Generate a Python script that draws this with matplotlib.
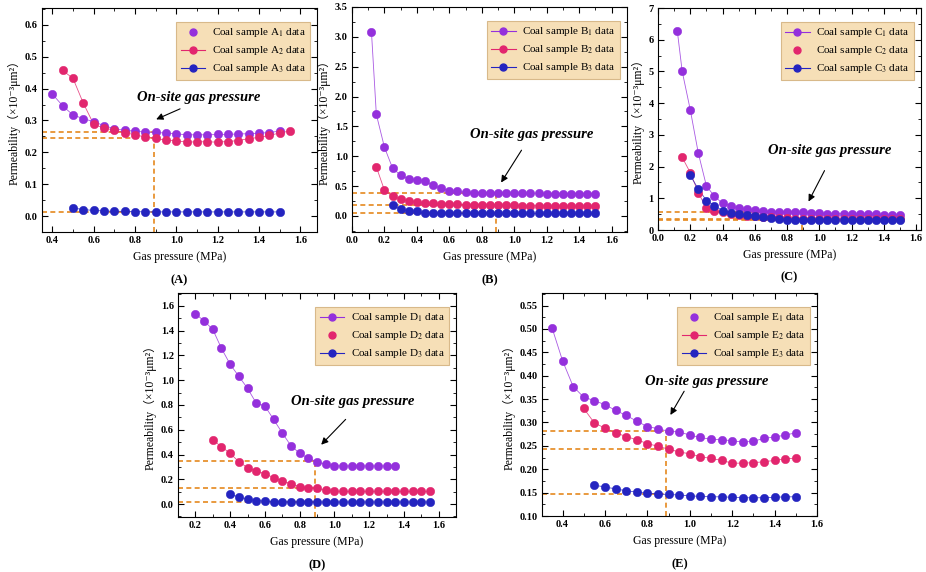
import numpy as np
import matplotlib
matplotlib.use("Agg")
import matplotlib.pyplot as plt
from matplotlib.lines import Line2D
from matplotlib.ticker import AutoMinorLocator, MultipleLocator, FormatStrFormatter

plt.rcParams["font.family"] = ["Liberation Serif", "Noto Sans CJK SC", "DejaVu Serif"]
plt.rcParams["mathtext.fontset"] = "stix"

# ---- data ----
xa1 = np.round(np.arange(0.40, 1.501, 0.05), 2)
ya1 = [0.383, 0.346, 0.317, 0.306, 0.296, 0.284, 0.274, 0.269, 0.267, 0.263, 0.263, 0.260,
       0.258, 0.255, 0.255, 0.255, 0.256, 0.256, 0.258, 0.258, 0.260, 0.262, 0.267]
xa2 = np.round(np.arange(0.45, 1.551, 0.05), 2)
ya2 = [0.457, 0.432, 0.354, 0.288, 0.276, 0.270, 0.262, 0.255, 0.248, 0.244, 0.238, 0.236,
       0.232, 0.233, 0.233, 0.232, 0.234, 0.237, 0.243, 0.247, 0.253, 0.261, 0.267]
xa3 = np.round(np.arange(0.50, 1.501, 0.05), 2)
ya3 = [0.026, 0.020, 0.018, 0.016, 0.015, 0.015, 0.014, 0.013, 0.013, 0.013, 0.013,
       0.013, 0.013, 0.013, 0.013, 0.013, 0.013, 0.013, 0.013, 0.013, 0.013]

xb1 = np.round(np.r_[0.12, np.arange(0.15, 1.501, 0.05)], 2)
yb1 = [3.08, 1.70, 1.15, 0.80, 0.68, 0.62, 0.60, 0.59, 0.51, 0.46, 0.42, 0.41, 0.40, 0.39,
       0.39, 0.39, 0.385, 0.385, 0.38, 0.38, 0.38, 0.38, 0.375, 0.375, 0.375, 0.375, 0.375,
       0.375, 0.375]
xb2 = np.round(np.arange(0.15, 1.501, 0.05), 2)
yb2 = [0.82, 0.43, 0.33, 0.28, 0.25, 0.24, 0.215, 0.21, 0.20, 0.20, 0.195, 0.19, 0.19, 0.185,
       0.18, 0.18, 0.175, 0.175, 0.17, 0.17, 0.17, 0.165, 0.165, 0.165, 0.16, 0.16, 0.16, 0.16]
xb3 = np.round(np.arange(0.25, 1.501, 0.05), 2)
yb3 = [0.175, 0.11, 0.085, 0.075, 0.05, 0.045, 0.04, 0.04, 0.04, 0.04, 0.04, 0.04, 0.04,
       0.04, 0.04, 0.04, 0.04, 0.04, 0.04, 0.04, 0.04, 0.04, 0.04, 0.04, 0.04, 0.04]

xc1 = np.round(np.r_[0.12, np.arange(0.15, 1.501, 0.05)], 2)
yc1 = [6.26, 5.00, 3.79, 2.42, 1.39, 1.06, 0.84, 0.77, 0.69, 0.65, 0.63, 0.61, 0.58, 0.57,
       0.57, 0.56, 0.56, 0.54, 0.53, 0.52, 0.52, 0.51, 0.50, 0.50, 0.49, 0.49, 0.48, 0.48, 0.48]
xc2 = np.round(np.arange(0.15, 1.501, 0.05), 2)
yc2 = [2.29, 1.81, 1.18, 0.68, 0.60, 0.57, 0.50, 0.47, 0.45, 0.43, 0.41, 0.40, 0.38, 0.37,
       0.36, 0.35, 0.35, 0.34, 0.34, 0.34, 0.34, 0.34, 0.34, 0.34, 0.34, 0.34, 0.34, 0.34]
xc3 = np.round(np.arange(0.20, 1.501, 0.05), 2)
yc3 = [1.72, 1.29, 0.93, 0.77, 0.61, 0.53, 0.52, 0.47, 0.44, 0.41, 0.38, 0.34, 0.33, 0.33,
       0.32, 0.32, 0.32, 0.31, 0.31, 0.31, 0.31, 0.30, 0.30, 0.30, 0.30, 0.30, 0.30]

xd1 = np.round(np.arange(0.20, 1.351, 0.05), 2)
yd1 = [1.538, 1.479, 1.411, 1.258, 1.129, 1.032, 0.935, 0.816, 0.792, 0.684, 0.574, 0.471,
       0.410, 0.369, 0.342, 0.320, 0.308, 0.307, 0.307, 0.307, 0.307, 0.307, 0.307, 0.307]
xd2 = np.round(np.arange(0.30, 1.551, 0.05), 2)
yd2 = [0.517, 0.463, 0.409, 0.342, 0.294, 0.267, 0.245, 0.213, 0.186, 0.164, 0.140, 0.132,
       0.127, 0.113, 0.104, 0.102, 0.102, 0.102, 0.102, 0.102, 0.102, 0.102, 0.102, 0.102,
       0.102, 0.102]
xd3 = np.round(np.arange(0.40, 1.551, 0.05), 2)
yd3 = [0.078, 0.057, 0.040, 0.027, 0.024, 0.018, 0.017, 0.016, 0.016, 0.016, 0.016, 0.016,
       0.016, 0.016, 0.016, 0.016, 0.016, 0.016, 0.016, 0.016, 0.016, 0.016, 0.016, 0.016]

xe1 = np.round(np.arange(0.35, 1.501, 0.05), 2)
ye1 = [0.503, 0.432, 0.377, 0.354, 0.347, 0.338, 0.326, 0.315, 0.303, 0.291, 0.287, 0.281,
       0.280, 0.273, 0.268, 0.264, 0.263, 0.261, 0.258, 0.260, 0.266, 0.269, 0.273, 0.278]
xe2 = np.round(np.arange(0.50, 1.501, 0.05), 2)
ye2 = [0.330, 0.299, 0.288, 0.278, 0.270, 0.263, 0.255, 0.249, 0.243, 0.237, 0.233, 0.227,
       0.223, 0.219, 0.213, 0.213, 0.214, 0.216, 0.219, 0.222, 0.224]
xe3 = np.round(np.arange(0.55, 1.501, 0.05), 2)
ye3 = [0.166, 0.162, 0.158, 0.154, 0.151, 0.149, 0.147, 0.146, 0.145, 0.143, 0.142, 0.141,
       0.141, 0.140, 0.139, 0.139, 0.139, 0.140, 0.141, 0.141]

ONSITE = 0.89
PURPLE = "#9430DC"
PINK = "#E2266E"
BLUE = "#2424C0"
ORANGE = "#E5891E"
W, H = 926, 572

# panel definitions: (letter, rect in pixels (left, top, right, bottom), series, xlim, ylim,
#                     x tick step, y tick step, y fmt, legend line flags, text pos, arrow tail, arrow head)
panels = [
    ("A", (42, 8, 317, 232),
     [(xa1, ya1), (xa2, ya2), (xa3, ya3)], (0.35, 1.68), (-0.05, 0.653),
     0.2, 0.1, "%.1f", (False, True, True), (1.11, 0.372), (1.03, 0.34), (0.89, 0.30)),
    ("B", (352, 7, 627, 232),
     [(xb1, yb1), (xb2, yb2), (xb3, yb3)], (0.0, 1.695), (-0.27, 3.5),
     0.2, 0.5, "%.1f", (True, True, True), (1.106, 1.37), (1.054, 1.14), (0.91, 0.52)),
    ("C", (658, 8, 921, 230),
     [(xc1, yc1), (xc2, yc2), (xc3, yc3)], (0.0, 1.63), (0.0, 7.0),
     0.2, 1.0, "%d", (True, False, True), (1.063, 2.5), (1.04, 1.95), (0.925, 0.82)),
    ("D", (178, 293, 456, 517),
     [(xd1, yd1), (xd2, yd2), (xd3, yd3)], (0.1, 1.7), (-0.105, 1.705),
     0.2, 0.2, "%.1f", (True, False, True), (1.105, 0.832), (1.076, 0.70), (0.913, 0.463)),
    ("E", (542, 293, 817, 516),
     [(xe1, ye1), (xe2, ye2), (xe3, ye3)], (0.303, 1.6), (0.10, 0.577),
     0.2, 0.05, "%.2f", (False, True, True), (1.078, 0.387), (0.98, 0.372), (0.902, 0.311)),
]

colors = [PURPLE, PINK, BLUE]

fig = plt.figure(figsize=(W / 100, H / 100), dpi=100)

for letter, (l, t, r, b), series, xlim, ylim, xstep, ystep, yfmt, lineflags, tpos, atail, ahead in panels:
    ax = fig.add_axes([l / W, 1 - b / H, (r - l) / W, (b - t) / H])

    # on-site gas pressure guides
    vals = [np.interp(ONSITE, x, y) for x, y in series]
    for v in vals:
        ax.plot([xlim[0], ONSITE], [v, v], ls=(0, (3, 2)), color=ORANGE, lw=1.2, zorder=1)
    ax.plot([ONSITE, ONSITE], [ylim[0], max(vals)], ls=(0, (3, 2)), color=ORANGE, lw=1.2, zorder=1)

    for (x, y), c in zip(series, colors):
        ax.plot(x, y, "-", color=c, lw=0.6, alpha=0.8, zorder=2)
        ax.plot(x, y, "o", color=c, ms=6, mec=c, mew=0.4, zorder=3)

    ax.set_xlim(*xlim)
    ax.set_ylim(*ylim)
    ax.xaxis.set_major_locator(MultipleLocator(xstep))
    ax.yaxis.set_major_locator(MultipleLocator(ystep))
    ax.xaxis.set_minor_locator(AutoMinorLocator(2))
    ax.yaxis.set_minor_locator(AutoMinorLocator(2))
    ax.xaxis.set_major_formatter(FormatStrFormatter("%.1f"))
    ax.yaxis.set_major_formatter(FormatStrFormatter(yfmt))
    ax.tick_params(which="both", direction="in", top=True, right=True, labelsize=7.5, pad=3)
    ax.tick_params(which="major", length=4)
    ax.tick_params(which="minor", length=2)
    for lab in ax.get_xticklabels() + ax.get_yticklabels():
        lab.set_fontweight("bold")

    ax.set_xlabel("Gas pressure (MPa)", fontsize=8.5, labelpad=4)
    ax.set_ylabel("Permeability（×10⁻³μm²）", fontsize=8.5, labelpad=3)
    ax.text(0.5, -0.215, "(%s)" % letter, transform=ax.transAxes, ha="center", va="center",
            fontsize=9, fontweight="bold")

    ax.annotate("", xy=ahead, xytext=atail,
                arrowprops=dict(arrowstyle="-|>", color="black", lw=0.8, mutation_scale=10))
    ax.text(tpos[0], tpos[1], "On-site gas pressure", ha="center", va="center",
            fontsize=10.5, fontweight="bold", fontstyle="italic")

    handles = []
    for i, (c, has_line) in enumerate(zip(colors, lineflags)):
        handles.append(Line2D([], [], color=c, lw=0.8 if has_line else 0, marker="o", ms=5,
                              label="Coal sample %s$_{%d}$ data" % (letter, i + 1)))
    pw, ph = r - l, b - t
    leg = ax.legend(handles=handles, loc="upper right",
                    bbox_to_anchor=(1 - 7 / pw, 1 - 14 / ph), borderaxespad=0,
                    fontsize=8, frameon=True, fancybox=False, framealpha=1,
                    facecolor="#F6DFB7", edgecolor="#D8B98A", handlelength=2.2,
                    labelspacing=0.45, borderpad=0.4, handletextpad=0.6)
    leg.get_frame().set_linewidth(0.8)

fig.savefig("out.png", dpi=100)
